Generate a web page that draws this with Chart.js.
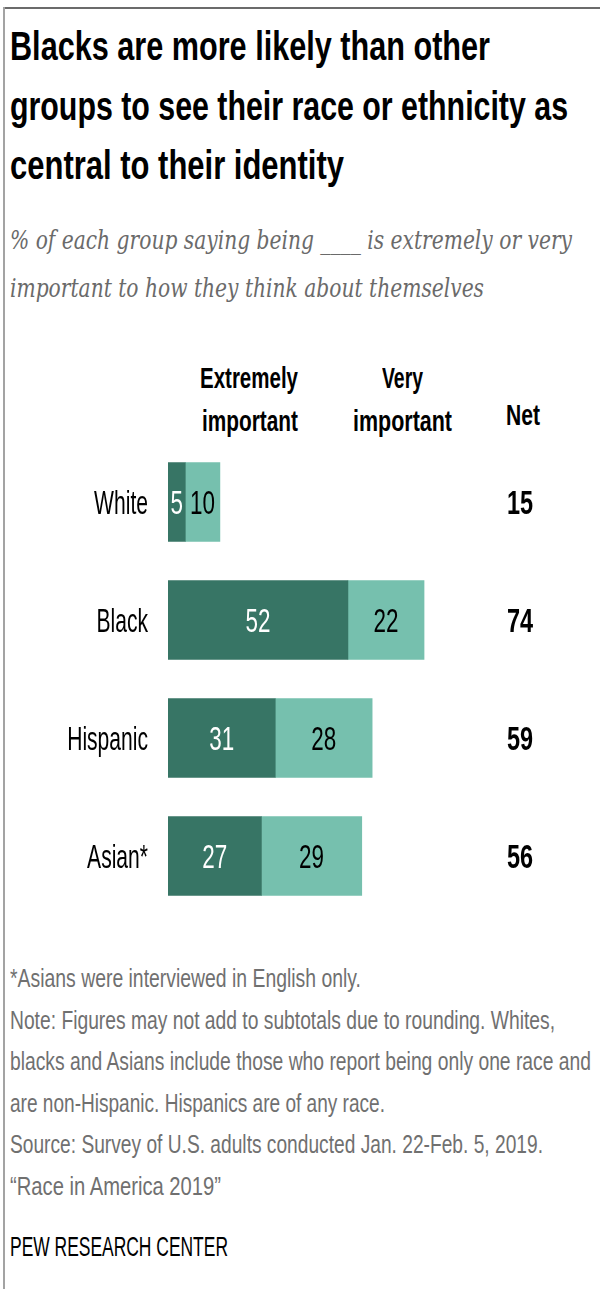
<!DOCTYPE html>
<html>
<head>
<meta charset="utf-8">
<script src="https://cdn.jsdelivr.net/npm/chart.js@4.4.1/dist/chart.umd.min.js"></script>
<style>
  body { margin: 0; background: #fff; }
  #page { position: relative; width: 600px; height: 1289px; overflow: hidden; background: #fff; }
  #frame-top { position: absolute; left: 4px; top: 7px; width: 596px; height: 2px; background: #6b6b6b; }
  #frame-left { position: absolute; left: 3px; top: 7px; width: 2px; height: 1282px; background: #a3a3a3; }
  .t { position: absolute; white-space: nowrap; line-height: 1; transform-origin: 0 0; }
  .title { font: bold 40px "Liberation Sans", sans-serif; color: #000; }
  .sub { font: italic 26px "DejaVu Serif", serif; color: #6a6a6a; }
  .head { font: bold 29px "Liberation Sans", sans-serif; color: #000; }
  .note { font: 25px "Liberation Sans", sans-serif; color: #707070; }
  .logo { font: 28px "Liberation Sans", sans-serif; color: #000; }
  #chart-box { position: absolute; left: 0; top: 443px; width: 600px; height: 472px; }
</style>
</head>
<body>
<div id="page">
  <div id="frame-top"></div>
  <div id="frame-left"></div>

  <!-- title -->
  <div class="t title" style="left:10px;top:24px" data-w="480">Blacks are more likely than other</div>
  <div class="t title" style="left:10px;top:84px" data-w="558">groups to see their race or ethnicity as</div>
  <div class="t title" style="left:10px;top:143px" data-w="334">central to their identity</div>

  <!-- subtitle -->
  <div class="t sub" style="left:10px;top:225px" data-w="562">% of each group saying being ____ is extremely or very</div>
  <div class="t sub" style="left:10px;top:273px" data-w="474">important to how they think about themselves</div>

  <!-- column headers -->
  <div class="t head" style="left:200px;top:362px" data-w="98">Extremely</div>
  <div class="t head" style="left:202px;top:405px" data-w="96">important</div>
  <div class="t head" style="left:382px;top:362px" data-w="41">Very</div>
  <div class="t head" style="left:353px;top:405px" data-w="99">important</div>
  <div class="t head" style="left:506px;top:399px" data-w="34">Net</div>

  <div id="chart-box"><canvas id="chart" width="600" height="472"></canvas></div>

  <!-- notes -->
  <div class="t note" style="left:10px;top:964px" data-w="351">*Asians were interviewed in English only.</div>
  <div class="t note" style="left:10px;top:1006px" data-w="545">Note: Figures may not add to subtotals due to rounding. Whites,</div>
  <div class="t note" style="left:10px;top:1047px" data-w="581">blacks and Asians include those who report being only one race and</div>
  <div class="t note" style="left:10px;top:1089px" data-w="375">are non-Hispanic. Hispanics are of any race.</div>
  <div class="t note" style="left:10px;top:1130px" data-w="533">Source: Survey of U.S. adults conducted Jan. 22-Feb. 5, 2019.</div>
  <div class="t note" style="left:10px;top:1172px" data-w="211">“Race in America 2019”</div>
  <div class="t logo" style="left:10px;top:1231px" data-w="218">PEW RESEARCH CENTER</div>
</div>

<script>
// chart data
const groups = ['White', 'Black', 'Hispanic', 'Asian*'];
const extremelyImportant = [5, 52, 31, 27];
const veryImportant = [10, 22, 28, 29];
const netValues = [15, 74, 59, 56];

const darkGreen = '#377565';
const lightGreen = '#76c0ae';

// squeeze each text line to the width it has in the reference (condensed face)
document.querySelectorAll('.t[data-w]').forEach(el => {
  const natural = el.getBoundingClientRect().width;
  const target = parseFloat(el.dataset.w);
  el.style.transform = `scaleX(${target / natural})`;
});

// draw condensed text on the canvas
function drawText(ctx, text, x, y, align, sx) {
  ctx.save();
  ctx.translate(x, y);
  ctx.scale(sx, 1);
  ctx.textAlign = align;
  ctx.textBaseline = 'alphabetic';
  ctx.fillText(text, 0, 0);
  ctx.restore();
}

// labels: group names, segment values and net column
const labelPlugin = {
  id: 'labels',
  afterDatasetsDraw(chart) {
    const ctx = chart.ctx;
    const yScale = chart.scales.y;

    ctx.fillStyle = '#000';
    ctx.font = '34px "Liberation Sans", sans-serif';
    groups.forEach((g, i) => {
      const y = yScale.getPixelForValue(i);
      drawText(ctx, g, 148, y + 12, 'right', 0.62);
    });

    chart.data.datasets.forEach((ds, di) => {
      const meta = chart.getDatasetMeta(di);
      ctx.fillStyle = di === 0 ? '#fff' : '#000';
      ctx.font = '34px "Liberation Sans", sans-serif';
      meta.data.forEach((bar, i) => {
        const cx = (bar.x + bar.base) / 2;
        drawText(ctx, String(ds.data[i]), cx, bar.y + 12, 'center', 0.66);
      });
    });

    ctx.fillStyle = '#000';
    ctx.font = 'bold 34px "Liberation Sans", sans-serif';
    netValues.forEach((v, i) => {
      const y = yScale.getPixelForValue(i);
      drawText(ctx, String(v), 520, y + 12, 'center', 0.69);
    });
  }
};

new Chart(document.getElementById('chart').getContext('2d'), {
  type: 'bar',
  data: {
    labels: groups,
    datasets: [
      { label: 'Extremely important', data: extremelyImportant, backgroundColor: darkGreen, borderWidth: 0, barThickness: 79 },
      { label: 'Very important', data: veryImportant, backgroundColor: lightGreen, borderWidth: 0, barThickness: 79 }
    ]
  },
  options: {
    indexAxis: 'y',
    responsive: false,
    animation: false,
    layout: { padding: { left: 168, right: 86, top: 0, bottom: 0 } },
    scales: {
      x: { stacked: true, min: 0, max: 100, display: false },
      y: { stacked: true, display: false }
    },
    plugins: {
      legend: { display: false },
      tooltip: { enabled: false }
    }
  },
  plugins: [labelPlugin]
});
</script>
</body>
</html>
